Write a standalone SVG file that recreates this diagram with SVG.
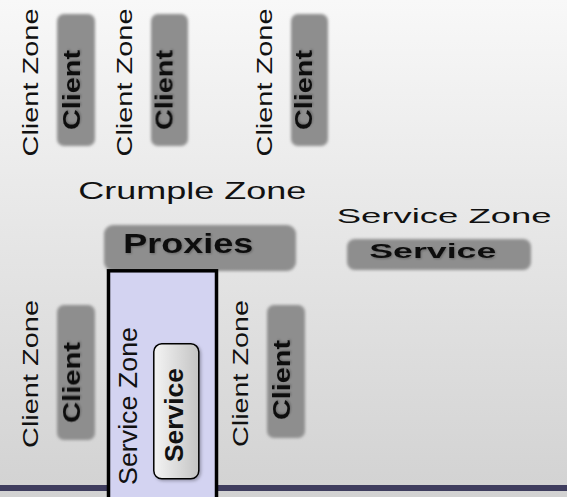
<svg xmlns="http://www.w3.org/2000/svg" width="567" height="497" viewBox="0 0 567 497">
<defs>
  <linearGradient id="bg" x1="0" y1="0" x2="0" y2="1">
    <stop offset="0" stop-color="#f8f8f8"/>
    <stop offset="1" stop-color="#d2d2d2"/>
  </linearGradient>
  <linearGradient id="svc" x1="0" y1="0" x2="1" y2="0">
    <stop offset="0" stop-color="#f4f4f4"/>
    <stop offset="1" stop-color="#c4c4c4"/>
  </linearGradient>
  <filter id="blur" x="-20%" y="-20%" width="140%" height="140%">
    <feGaussianBlur stdDeviation="1.8"/>
  </filter>
  <filter id="tshadow" x="-10%" y="-10%" width="130%" height="130%">
    <feGaussianBlur in="SourceAlpha" stdDeviation="0.8"/>
    <feOffset dx="0.6" dy="0.6" result="b"/>
    <feFlood flood-color="#000" flood-opacity="0.25"/>
    <feComposite in2="b" operator="in"/>
    <feMerge><feMergeNode/><feMergeNode in="SourceGraphic"/></feMerge>
  </filter>
  <filter id="bshadow" x="-20%" y="-10%" width="140%" height="130%">
    <feDropShadow dx="1.5" dy="1.5" stdDeviation="1.5" flood-color="#000" flood-opacity="0.3"/>
  </filter>
</defs>
<style>
  .zone { font-family: "Liberation Sans", Arial, sans-serif; fill: #111; }
  .lbl { font-family: "Liberation Sans", Arial, sans-serif; font-weight: bold; fill: #111; }
  .gbox { fill: #8e8e8e; filter: url(#blur); }
</style>

<rect x="0" y="0" width="567" height="497" fill="url(#bg)"/>

<g id="bottom-bar">
  <rect x="0" y="485" width="567" height="6" fill="#3f3d5e"/>
</g>

<g id="connectors"></g>

<g id="client-zone-1">
  <text class="zone" font-size="22.5" text-anchor="middle" textLength="148" lengthAdjust="spacingAndGlyphs" transform="translate(38.3,82.5) rotate(-90)">Client Zone</text>
  <rect class="gbox" x="57" y="14" width="38" height="132" rx="7"/>
  <text class="lbl" font-size="23.5" text-anchor="middle" textLength="80" lengthAdjust="spacingAndGlyphs" filter="url(#tshadow)" transform="translate(80,90) rotate(-90)">Client</text>
</g>

<g id="client-zone-2">
  <text class="zone" font-size="22.5" text-anchor="middle" textLength="148" lengthAdjust="spacingAndGlyphs" transform="translate(132,82.5) rotate(-90)">Client Zone</text>
  <rect class="gbox" x="151" y="14" width="37" height="132" rx="7"/>
  <text class="lbl" font-size="23.5" text-anchor="middle" textLength="80" lengthAdjust="spacingAndGlyphs" filter="url(#tshadow)" transform="translate(172.5,90) rotate(-90)">Client</text>
</g>

<g id="client-zone-3">
  <text class="zone" font-size="22.5" text-anchor="middle" textLength="148" lengthAdjust="spacingAndGlyphs" transform="translate(272,82.5) rotate(-90)">Client Zone</text>
  <rect class="gbox" x="291" y="14" width="37" height="132" rx="7"/>
  <text class="lbl" font-size="23.5" text-anchor="middle" textLength="80" lengthAdjust="spacingAndGlyphs" filter="url(#tshadow)" transform="translate(312,90) rotate(-90)">Client</text>
</g>

<g id="crumple-zone">
  <text class="zone" x="78.3" y="199.3" font-size="24.5" textLength="228" lengthAdjust="spacingAndGlyphs">Crumple Zone</text>
  <rect class="gbox" x="104" y="225" width="192" height="46" rx="9"/>
  <text class="lbl" x="123.3" y="253.3" font-size="28" textLength="130" lengthAdjust="spacingAndGlyphs" filter="url(#tshadow)">Proxies</text>
</g>

<g id="service-zone-right">
  <text class="zone" x="336.7" y="223.3" font-size="21" textLength="215" lengthAdjust="spacingAndGlyphs">Service Zone</text>
  <rect class="gbox" x="347" y="239" width="184" height="31" rx="8"/>
  <text class="lbl" x="369.3" y="258.3" font-size="21" textLength="127" lengthAdjust="spacingAndGlyphs" filter="url(#tshadow)">Service</text>
</g>

<g id="client-zone-4">
  <text class="zone" font-size="22.5" text-anchor="middle" textLength="148" lengthAdjust="spacingAndGlyphs" transform="translate(38.3,374) rotate(-90)">Client Zone</text>
  <rect class="gbox" x="57" y="305" width="38" height="135" rx="7"/>
  <text class="lbl" font-size="23.5" text-anchor="middle" textLength="81" lengthAdjust="spacingAndGlyphs" filter="url(#tshadow)" transform="translate(80,382.5) rotate(-90)">Client</text>
</g>

<g id="service-zone-center">
  <rect x="108.5" y="270.8" width="108" height="240" fill="#d3d3f1" stroke="#000" stroke-width="3.5"/>
  <text class="zone" font-size="26" text-anchor="middle" textLength="158" lengthAdjust="spacingAndGlyphs" transform="translate(136.5,406) rotate(-90)">Service Zone</text>
  <rect x="153.8" y="343.8" width="45" height="135" rx="8" fill="url(#svc)" stroke="#000" stroke-width="1.5" filter="url(#bshadow)"/>
  <text class="lbl" font-size="26.5" text-anchor="middle" textLength="94" lengthAdjust="spacingAndGlyphs" transform="translate(183.3,415) rotate(-90)">Service</text>
</g>

<g id="client-zone-5">
  <text class="zone" font-size="22.5" text-anchor="middle" textLength="147" lengthAdjust="spacingAndGlyphs" transform="translate(248.3,373.5) rotate(-90)">Client Zone</text>
  <rect class="gbox" x="267" y="305" width="38" height="133" rx="7"/>
  <text class="lbl" font-size="23.5" text-anchor="middle" textLength="80" lengthAdjust="spacingAndGlyphs" filter="url(#tshadow)" transform="translate(290,380) rotate(-90)">Client</text>
</g>
</svg>
